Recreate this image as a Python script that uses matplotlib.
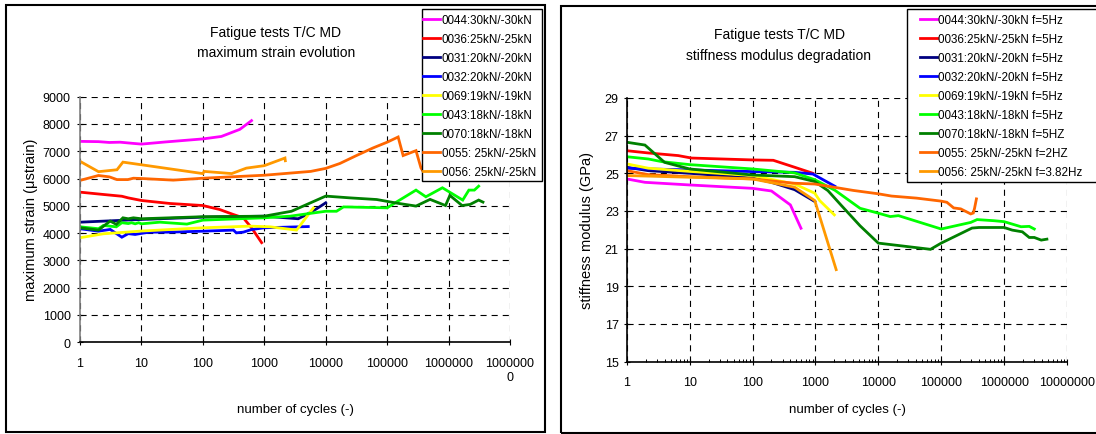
import matplotlib
matplotlib.use("Agg")
import matplotlib.pyplot as plt
from matplotlib.patches import Rectangle
from matplotlib.ticker import LogLocator, FixedLocator, NullFormatter

plt.rcParams['font.family'] = ['Liberation Sans', 'DejaVu Sans']

# ---------------- data: maximum strain evolution (left) ----------------
s0044_x = [1, 2, 3, 4.5, 7, 10, 25, 100, 200, 400, 620]
s0044_y = [7360, 7350, 7320, 7330, 7290, 7260, 7340, 7450, 7540, 7800, 8120]

s0036_x = [1, 2.4, 4.8, 6.1, 10, 29, 100, 187, 315, 455, 620, 905]
s0036_y = [5500, 5415, 5350, 5290, 5195, 5085, 5010, 4865, 4680, 4560, 4195, 3650]

s0031_x = [1, 10, 100, 1000, 3560, 4900, 7100, 10000]
s0031_y = [4400, 4500, 4585, 4620, 4525, 4680, 4890, 5110]

s0032_x = [1, 2, 3.1, 4.8, 6.1, 7.9, 10, 13.8, 29, 100, 315, 350, 455, 620, 1000, 5200]
s0032_y = [4160, 4070, 4135, 3850, 3980, 3950, 3990, 4035, 4035, 4070, 4110, 4010, 4035, 4130, 4195, 4240]

s0069_x = [1, 2.4, 10, 100, 585, 1250, 3350, 6300]
s0069_y = [3830, 3975, 4075, 4195, 4255, 4230, 4110, 4920]

s0043_x = [1, 2, 2.4, 3.9, 4.8, 6.1, 6.9, 7.9, 9, 10, 20, 55, 100, 1000, 2630,
           10000, 15000, 19500, 100000, 141000, 295000, 427000, 794000,
           1700000, 2140000, 2630000, 3090000]
s0043_y = [4230, 4160, 4280, 4230, 4380, 4350, 4380, 4340, 4380, 4340, 4400, 4330, 4475, 4560, 4620,
           4800, 4800, 4960, 4925, 5135, 5575, 5330, 5660,
           5210, 5575, 5575, 5720]

s0070_x = [1, 2, 3.1, 3.9, 5, 6.1, 7.4, 10, 100, 1000, 2770, 10000, 25000, 67600,
           151000, 295000, 500000, 891000, 1050000, 1660000, 2240000, 3090000, 3630000]
s0070_y = [4195, 4110, 4440, 4320, 4560, 4525, 4560, 4525, 4600, 4620, 4800, 5355, 5290, 5230,
           5090, 4990, 5235, 5010, 5380, 5010, 5050, 5210, 5135]

s0055_x = [1, 2, 3, 4, 6, 7.4, 10, 33, 100, 1000, 5700, 10000, 17000, 31600, 59000,
           100000, 151000, 182000, 295000, 355000, 400000]
s0055_y = [5930, 6110, 6060, 5960, 5960, 6010, 6000, 5940, 6010, 6120, 6260, 6370, 6550, 6840, 7120,
           7330, 7520, 6840, 7020, 6390, 6200]

s0056_x = [1, 2, 4, 5, 100, 105, 295, 510, 1000, 2170, 2200]
s0056_y = [6630, 6250, 6320, 6600, 6180, 6260, 6180, 6380, 6470, 6750, 6650]

# ---------------- data: stiffness modulus degradation (right) ----------------
m0044_x = [1, 1.95, 10, 100, 200, 400, 590]
m0044_y = [24.7, 24.52, 24.38, 24.2, 24.06, 23.32, 22.08]

m0036_x = [1, 2.2, 6.6, 10.7, 100, 214, 468, 912]
m0036_y = [26.2, 26.08, 25.94, 25.81, 25.71, 25.69, 25.32, 25.0]

m0031_x = [1, 2.2, 10, 100, 200, 468, 977]
m0031_y = [25.32, 25.14, 25.0, 24.75, 24.52, 24.13, 23.5]

m0032_x = [1, 2.2, 10, 100, 468, 912, 2040]
m0032_y = [25.27, 25.23, 25.18, 25.09, 25.05, 24.96, 24.31]

m0069_x = [1, 2.2, 10, 100, 468, 977, 1170, 2000]
m0069_y = [25.5, 25.27, 25.1, 24.88, 24.43, 23.94, 23.55, 22.79]

m0043_x = [1, 2.2, 3.6, 10, 100, 468, 977, 2040, 5130, 10000, 15500, 20900, 100000,
           295000, 372000, 692000, 1000000, 1350000, 1860000, 2510000, 3020000]
m0043_y = [25.88, 25.76, 25.62, 25.46, 25.23, 25.02, 24.66, 24.1, 23.14, 22.88, 22.7, 22.75, 22.04,
           22.39, 22.54, 22.48, 22.43, 22.3, 22.16, 22.18, 22.04]

m0070_x = [1, 1.95, 4, 10, 100, 468, 977, 1580, 2570, 5130, 10000, 67600, 100000,
           309000, 398000, 1000000, 1350000, 1950000, 2510000, 3020000, 3890000, 4790000]
m0070_y = [26.65, 26.5, 25.58, 25.23, 24.91, 24.82, 24.56, 24.08, 23.3, 22.21, 21.29, 20.96, 21.29,
           22.09, 22.12, 22.12, 21.98, 21.89, 21.59, 21.59, 21.45, 21.5]

m0055_x = [1, 2.2, 10, 100, 468, 977, 3980, 10000, 16200, 40700, 100000, 123000, 158000,
           204000, 295000, 324000, 339000, 363000]
m0055_y = [25.14, 24.93, 24.82, 24.7, 24.47, 24.43, 24.09, 23.91, 23.79, 23.68, 23.52, 23.46, 23.16,
           23.11, 22.84, 22.89, 23.14, 23.64]

m0056_x = [1, 10, 100, 468, 977, 2140]
m0056_y = [24.88, 24.79, 24.7, 24.26, 23.55, 19.88]

colors = ['#FF00FF', '#FF0000', '#000080', '#0000FF', '#FFFF00',
          '#00FF00', '#008000', '#FF6600', '#FF9900']

labels_left = ['0044:30kN/-30kN', '0036:25kN/-25kN', '0031:20kN/-20kN', '0032:20kN/-20kN',
               '0069:19kN/-19kN', '0043:18kN/-18kN', '0070:18kN/-18kN',
               '0055: 25kN/-25kN', '0056: 25kN/-25kN']
labels_right = ['0044:30kN/-30kN f=5Hz', '0036:25kN/-25kN f=5Hz', '0031:20kN/-20kN f=5Hz',
                '0032:20kN/-20kN f=5Hz', '0069:19kN/-19kN f=5Hz', '0043:18kN/-18kN f=5Hz',
                '0070:18kN/-18kN f=5HZ', '0055: 25kN/-25kN f=2HZ', '0056: 25kN/-25kN f=3.82Hz']

left_series = [(s0044_x, s0044_y), (s0036_x, s0036_y), (s0031_x, s0031_y), (s0032_x, s0032_y),
               (s0069_x, s0069_y), (s0043_x, s0043_y), (s0070_x, s0070_y),
               (s0055_x, s0055_y), (s0056_x, s0056_y)]
right_series = [(m0044_x, m0044_y), (m0036_x, m0036_y), (m0031_x, m0031_y), (m0032_x, m0032_y),
                (m0069_x, m0069_y), (m0043_x, m0043_y), (m0070_x, m0070_y),
                (m0055_x, m0055_y), (m0056_x, m0056_y)]

left_xticks = [1, 10, 100, 1000, 10000, 100000, 1000000, 10000000]
left_xticklabels = ['1', '10', '100', '1000', '10000', '100000', '1000000', '1000000\n0']
right_xticklabels = ['1', '10', '100', '1000', '10000', '100000', '1000000', '10000000']
left_yticks = list(range(0, 9001, 1000))
right_yticks = list(range(15, 30, 2))

W, H = 1096, 435
fig = plt.figure(figsize=(W / 100, H / 100), dpi=100)
fig.patch.set_facecolor('white')


def fx(p):
    return p / W


def fy(p):
    return 1 - p / H


def make_axes(x0, x1, ytop, ybot):
    return fig.add_axes([fx(x0), fy(ybot), (x1 - x0) / W, (ybot - ytop) / H])


axL = make_axes(80, 510, 97.6, 343.3)
axR = make_axes(626.7, 1067, 99, 362.5)

TICK_FS = 9
LEG_FS = 8.4


def style_axes(ax, yticks, xlabels, left_color):
    ax.set_xscale('log')
    ax.set_xlim(1, 1e7)
    ax.set_ylim(yticks[0], yticks[-1])
    ax.xaxis.set_major_locator(FixedLocator(left_xticks))
    ax.set_xticklabels(xlabels)
    ax.set_yticks(yticks)
    for s in ['top', 'right']:
        ax.spines[s].set_visible(False)
    ax.spines['left'].set_color(left_color)
    ax.spines['left'].set_linewidth(1.2)
    ax.spines['bottom'].set_color('black')
    ax.spines['bottom'].set_linewidth(1.2)
    ax.grid(True, which='major', color='black', linestyle=(0, (5.5, 4.5)), linewidth=0.8)
    ax.tick_params(axis='both', which='major', direction='inout', length=4.5, width=0.8,
                   labelsize=TICK_FS, colors='black')
    ax.tick_params(axis='x', which='major', pad=8.5)
    ax.tick_params(axis='y', which='major', pad=4.5)
    ax.set_facecolor('white')


style_axes(axL, left_yticks, left_xticklabels, '#808080')
axL.xaxis.set_minor_locator(FixedLocator([]))
style_axes(axR, right_yticks, right_xticklabels, 'black')
axR.xaxis.set_minor_locator(LogLocator(base=10, subs=[2, 3, 4, 5, 6, 7, 8, 9], numticks=20))
axR.xaxis.set_minor_formatter(NullFormatter())
axR.tick_params(axis='x', which='minor', direction='in', length=2.5, width=0.7)
axR.tick_params(axis='y', which='major', pad=3.5)

handles_by_ax = {}
for ax, series, labels in [(axL, left_series, labels_left), (axR, right_series, labels_right)]:
    handles = []
    for (xs, ys), c, lab in zip(series, colors, labels):
        h, = ax.plot(xs, ys, color=c, lw=2.0, label=lab, solid_joinstyle='miter')
        handles.append(h)
    handles_by_ax[ax] = handles

# legends: white frame box (covers lines) + frameless legend entries
legend_specs = [
    (axL, (421.7, 10, 541.7, 181.7), 423.3),
    (axR, (906.7, 10, 1110, 182.7), 920.0),
]
for ax, (bx0, by0, bx1, by1), hx in legend_specs:
    frame = Rectangle((fx(bx0), fy(by1)), (bx1 - bx0) / W, (by1 - by0) / H,
                      transform=fig.transFigure, facecolor='white', edgecolor='black',
                      lw=1.0, zorder=9, clip_on=False)
    ax.add_patch(frame)
    leg = ax.legend(handles=handles_by_ax[ax], loc='upper left',
                    bbox_to_anchor=(fx(hx), fy(14.8)), bbox_transform=fig.transFigure,
                    borderaxespad=0, frameon=False, borderpad=0, handlelength=1.43,
                    handletextpad=0.15, labelspacing=0.6, fontsize=LEG_FS)
    leg.set_zorder(10)

# titles
TITLE_FS = 10
fig.text(fx(276), fy(33), 'Fatigue tests T/C MD', ha='center', va='center', fontsize=TITLE_FS)
fig.text(fx(276), fy(53), 'maximum strain evolution', ha='center', va='center', fontsize=TITLE_FS)
fig.text(fx(779), fy(35), 'Fatigue tests T/C MD', ha='center', va='center', fontsize=TITLE_FS)
fig.text(fx(779), fy(56), 'stiffness modulus degradation', ha='center', va='center', fontsize=TITLE_FS)

# axis labels
fig.text(fx(295), fy(410), 'number of cycles (-)', ha='center', va='center', fontsize=9.5)
fig.text(fx(847), fy(410), 'number of cycles (-)', ha='center', va='center', fontsize=9.5)
fig.text(fx(31), fy(220), 'maximum strain (\u03bcstrain)', ha='center', va='center',
         rotation=90, fontsize=10.5)
fig.text(fx(587), fy(231), 'stiffness modulus (GPa)', ha='center', va='center',
         rotation=90, fontsize=10.5)

# panel borders
fig.add_artist(Rectangle((fx(6), fy(433)), (545 - 6) / W, (433 - 6) / H,
                         transform=fig.transFigure, fill=False, ec='black', lw=1.5))
fig.add_artist(Rectangle((fx(561), fy(434)), (1110 - 561) / W, (434 - 7) / H,
                         transform=fig.transFigure, fill=False, ec='black', lw=1.5))

fig.savefig('out.png', dpi=100, facecolor='white')
